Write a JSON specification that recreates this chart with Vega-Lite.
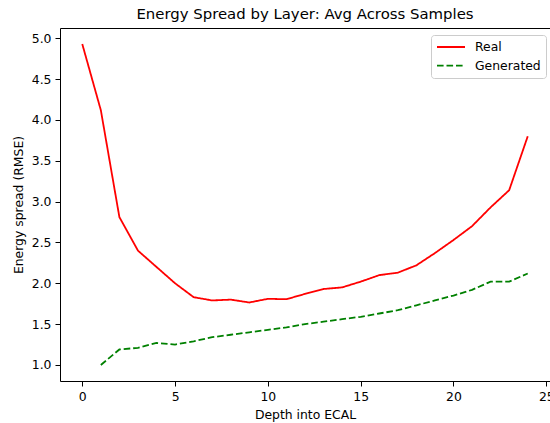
{
  "$schema": "https://vega.github.io/schema/vega-lite/v6.json",
  "width": 490,
  "height": 353,
  "autosize": {"type": "none"},
  "padding": {"left": 60, "top": 28, "right": 0, "bottom": 42},
  "background": "white",
  "title": {"text": "Energy Spread by Layer: Avg Across Samples", "fontSize": 14.9, "font": "DejaVu Sans", "fontWeight": "normal", "color": "black", "offset": 6},
  "config": {
    "view": {"stroke": null},
    "axis": {
      "labelFont": "DejaVu Sans", "labelFontSize": 12.4, "labelColor": "black",
      "titleFont": "DejaVu Sans", "titleFontSize": 12.4, "titleFontWeight": "normal", "titleColor": "black",
      "tickColor": "black", "tickSize": 5, "tickWidth": 1, "domainColor": "black", "domainWidth": 1,
      "grid": false, "labelPadding": 4, "titlePadding": 6
    },
    "legend": {
      "orient": "none", "legendX": 371, "legendY": 7,
      "fillColor": "white", "strokeColor": "#cccccc", "cornerRadius": 3, "padding": 5,
      "symbolType": "stroke", "symbolSize": 784, "symbolStrokeWidth": 1.8,
      "labelFont": "DejaVu Sans", "labelFontSize": 12.4, "labelColor": "black", "labelOffset": 9,
      "clipHeight": 14, "rowPadding": 4.6
    }
  },
  "data": {"values": [
    {"depth": 0, "series": "Real", "value": 4.93},
    {"depth": 1, "series": "Real", "value": 4.12},
    {"depth": 2, "series": "Real", "value": 2.81},
    {"depth": 3, "series": "Real", "value": 2.40},
    {"depth": 4, "series": "Real", "value": 2.20},
    {"depth": 5, "series": "Real", "value": 2.00},
    {"depth": 6, "series": "Real", "value": 1.83},
    {"depth": 7, "series": "Real", "value": 1.79},
    {"depth": 8, "series": "Real", "value": 1.80},
    {"depth": 9, "series": "Real", "value": 1.765},
    {"depth": 10, "series": "Real", "value": 1.81},
    {"depth": 11, "series": "Real", "value": 1.805},
    {"depth": 12, "series": "Real", "value": 1.87},
    {"depth": 13, "series": "Real", "value": 1.93},
    {"depth": 14, "series": "Real", "value": 1.95},
    {"depth": 15, "series": "Real", "value": 2.02},
    {"depth": 16, "series": "Real", "value": 2.10},
    {"depth": 17, "series": "Real", "value": 2.13},
    {"depth": 18, "series": "Real", "value": 2.22},
    {"depth": 19, "series": "Real", "value": 2.37},
    {"depth": 20, "series": "Real", "value": 2.53},
    {"depth": 21, "series": "Real", "value": 2.70},
    {"depth": 22, "series": "Real", "value": 2.93},
    {"depth": 23, "series": "Real", "value": 3.14},
    {"depth": 24, "series": "Real", "value": 3.80},
    {"depth": 1, "series": "Generated", "value": 1.00},
    {"depth": 2, "series": "Generated", "value": 1.19},
    {"depth": 3, "series": "Generated", "value": 1.21},
    {"depth": 4, "series": "Generated", "value": 1.27},
    {"depth": 5, "series": "Generated", "value": 1.25},
    {"depth": 6, "series": "Generated", "value": 1.29},
    {"depth": 7, "series": "Generated", "value": 1.34},
    {"depth": 8, "series": "Generated", "value": 1.37},
    {"depth": 9, "series": "Generated", "value": 1.40},
    {"depth": 10, "series": "Generated", "value": 1.43},
    {"depth": 11, "series": "Generated", "value": 1.46},
    {"depth": 12, "series": "Generated", "value": 1.50},
    {"depth": 13, "series": "Generated", "value": 1.53},
    {"depth": 14, "series": "Generated", "value": 1.56},
    {"depth": 15, "series": "Generated", "value": 1.59},
    {"depth": 16, "series": "Generated", "value": 1.63},
    {"depth": 17, "series": "Generated", "value": 1.67},
    {"depth": 18, "series": "Generated", "value": 1.73},
    {"depth": 19, "series": "Generated", "value": 1.79},
    {"depth": 20, "series": "Generated", "value": 1.85},
    {"depth": 21, "series": "Generated", "value": 1.92},
    {"depth": 22, "series": "Generated", "value": 2.02},
    {"depth": 23, "series": "Generated", "value": 2.02},
    {"depth": 24, "series": "Generated", "value": 2.12}
  ]},
  "layer": [
    {
      "mark": {"type": "line", "strokeWidth": 1.8},
      "encoding": {
        "x": {"field": "depth", "type": "quantitative",
          "scale": {"domain": [-1.2, 25.2], "nice": false, "zero": false},
          "axis": {"values": [0, 5, 10, 15, 20, 25], "format": "d", "title": "Depth into ECAL"}},
        "y": {"field": "value", "type": "quantitative",
          "scale": {"domain": [0.8035, 5.1265], "nice": false, "zero": false},
          "axis": {"values": [1.0, 1.5, 2.0, 2.5, 3.0, 3.5, 4.0, 4.5, 5.0], "format": ".1f", "title": "Energy spread (RMSE)"}},
        "color": {"field": "series", "type": "nominal",
          "scale": {"domain": ["Real", "Generated"], "range": ["#ff0000", "#008000"]},
          "legend": {"title": null}},
        "strokeDash": {"field": "series", "type": "nominal",
          "scale": {"domain": ["Real", "Generated"], "range": [[1, 0], [6.6, 2.9]]},
          "legend": {"title": null}}
      }
    },
    {
      "mark": {"type": "point", "opacity": 0},
      "encoding": {
        "x": {"field": "depth", "type": "quantitative",
          "axis": {"orient": "top", "labels": false, "ticks": false, "title": null, "domain": true}},
        "y": {"field": "value", "type": "quantitative",
          "axis": {"orient": "right", "labels": false, "ticks": false, "title": null, "domain": true}}
      }
    }
  ],
  "resolve": {"axis": {"x": "independent", "y": "independent"}}
}
